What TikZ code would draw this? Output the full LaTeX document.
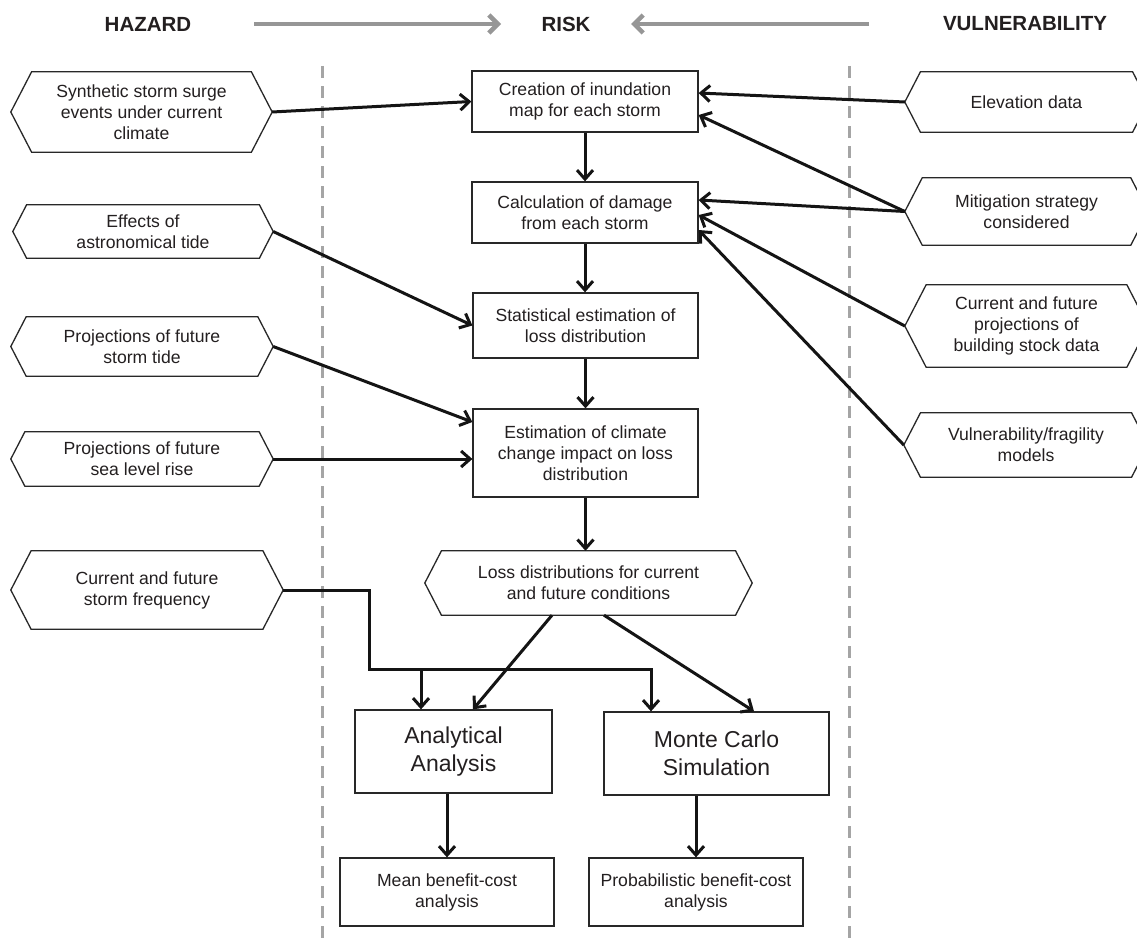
\documentclass[tikz,border=0pt]{standalone}
\usepackage{fontspec}
\setmainfont{Liberation Sans}
\usetikzlibrary{arrows.meta,calc}
\definecolor{txt}{RGB}{35,31,32}
\definecolor{boxc}{RGB}{40,40,40}
\definecolor{linec}{RGB}{20,20,20}
\definecolor{grayarr}{RGB}{150,150,150}
\definecolor{dashc}{RGB}{165,165,165}
\newcommand{\mytxt}{\fontsize{17.6}{21}\selectfont}
\newcommand{\bigtxt}{\fontsize{23}{27.5}\selectfont}
\newcommand{\hdrtxt}{\fontsize{20.5}{23}\selectfont\bfseries}
\newcommand{\hexnode}[6]{%
  \node[hexin, minimum width=#4pt, minimum height=#5pt] (#1) at (#2,#3) {#6};
  \draw[hexline] (#1.west) -- ([xshift={0.26*#5pt}]#1.north west) -- ([xshift={-0.26*#5pt}]#1.north east) -- (#1.east) -- ([xshift={-0.26*#5pt}]#1.south east) -- ([xshift={0.26*#5pt}]#1.south west) -- cycle;}
\begin{document}
\begin{tikzpicture}[x=1pt,y=-1pt,
  hexin/.style={draw=none, align=center, font=\mytxt, text=txt, inner sep=0pt},
  hexline/.style={draw=boxc, line width=1.3pt, line join=miter},
  box/.style={draw=boxc, line width=1.3pt, align=center, font=\mytxt, text=txt, inner sep=0pt},
  arr/.style={draw=linec, line width=3pt, -{Straight Barb[length=9pt,width=16pt]}},
  harr/.style={draw=grayarr, line width=4.5pt, -{Straight Barb[length=9pt,width=18pt]}},
  hdr/.style={font=\hdrtxt, text=txt, inner sep=0pt},
  sep/.style={draw=dashc, line width=3pt, dash pattern=on 12pt off 8pt}]
\useasboundingbox (0,0) rectangle (1137,942);
\fill[white] (0,0) rectangle (1137,942);

% headers
\node[hdr] (hz) at (148,24) {HAZARD};
\node[hdr] (rk) at (566,24) {RISK};
\node[hdr] (vl) at (1025,24) {VULNERABILITY};
\coordinate (h1s) at (254,24);
\coordinate (h1e) at (501,24);
\coordinate (h2s) at (869,24);
\coordinate (h2e) at (631,24);
\draw[harr] (h1s) -- (h1e);
\draw[harr] (h2s) -- (h2e);

% separators
\draw[sep] (322,66) -- (322,942);
\draw[sep] (849,66) -- (849,942);

% hazard column
\hexnode{syn}{141.5}{112}{261}{80}{Synthetic storm surge\\events under current\\climate}
\hexnode{eff}{143}{231.5}{260}{53}{Effects of\\astronomical tide}
\hexnode{tide}{142}{346.5}{262}{59}{Projections of future\\storm tide}
\hexnode{sea}{142}{459}{262}{54}{Projections of future\\sea level rise}
\hexnode{freq}{147}{590}{272}{78}{Current and future\\storm frequency}

% vulnerability column
\hexnode{elev}{1026.5}{102}{243}{60}{Elevation data}
\hexnode{miti}{1026.5}{211.5}{243}{67}{Mitigation strategy\\considered}
\hexnode{bld}{1026.5}{326}{243}{82}{Current and future\\projections of\\building stock data}
\hexnode{vul}{1026}{445}{244}{64}{Vulnerability/fragility\\models}

% risk column
\node[box, minimum width=226pt, minimum height=61pt] (cre) at (585,101.5) {Creation of inundation\\map for each storm};
\node[box, minimum width=226pt, minimum height=61pt] (calc) at (585,212.5) {Calculation of damage\\from each storm};
\node[box, minimum width=225pt, minimum height=65pt] (stat) at (585.5,325.5) {Statistical estimation of\\loss distribution};
\node[box, minimum width=225pt, minimum height=88pt] (est) at (585.5,453) {Estimation of climate\\change impact on loss\\distribution};
\hexnode{loss}{588.5}{583}{327}{64}{Loss distributions for current\\and future conditions}
\node[box, font=\bigtxt, minimum width=197pt, minimum height=83pt] (ana) at (453.5,751.5) {Analytical\\Analysis};
\node[box, font=\bigtxt, minimum width=225pt, minimum height=83pt] (mc) at (716.5,753.5) {Monte Carlo\\Simulation};
\node[box, minimum width=214pt, minimum height=68pt] (mean) at (447,892) {Mean benefit-cost\\analysis};
\node[box, minimum width=214pt, minimum height=68pt] (prob) at (696,892) {Probabilistic benefit-cost\\analysis};

% connectors: hazard -> risk
\draw[arr] (syn.east) -- (cre.west);
\draw[arr] (eff.east) -- (stat.west);
\draw[arr] (tide.east) -- ([yshift=31pt]est.west);
\draw[arr] (sea.east) -- (sea.east -| est.west);

% vulnerability -> risk
\draw[arr] (elev.west) -- ([yshift=8.5pt]cre.east);
\draw[arr] (miti.west) -- ([yshift=-13.5pt]cre.east);
\draw[arr] (miti.west) -- ([yshift=12.5pt]calc.east);
\draw[arr] (bld.west) -- ([yshift=-2.5pt]calc.east);
\draw[arr] (vul.west) -- ([yshift=-17.5pt]calc.east);

% vertical chain
\draw[arr] (cre.south) -- (calc.north);
\draw[arr] (calc.south) -- (calc.south |- stat.north);
\draw[arr] (stat.south) -- (est.north);
\draw[arr] (est.south) -- (est.south |- loss.north);

% loss -> analyses
\draw[arr] ([xshift=-36.5pt]loss.south) -- ([xshift=19.5pt]ana.north);
\draw[arr] ([xshift=15.5pt]loss.south) -- ([xshift=37.5pt]mc.north);

% storm frequency elbow
\coordinate (j1) at (369,669);
\coordinate (j2) at (651,669);
\coordinate (j3) at (421,669);
\draw[arr, line join=miter] (freq.east) -| (j1) -- (j2) -- (j2 |- mc.north);
\draw[arr] (j3) -- (j3 |- ana.north);

% analyses -> benefit-cost
\draw[arr] (mean.north |- ana.south) -- (mean.north);
\draw[arr] (prob.north |- mc.south) -- (prob.north);
\end{tikzpicture}
\end{document}
